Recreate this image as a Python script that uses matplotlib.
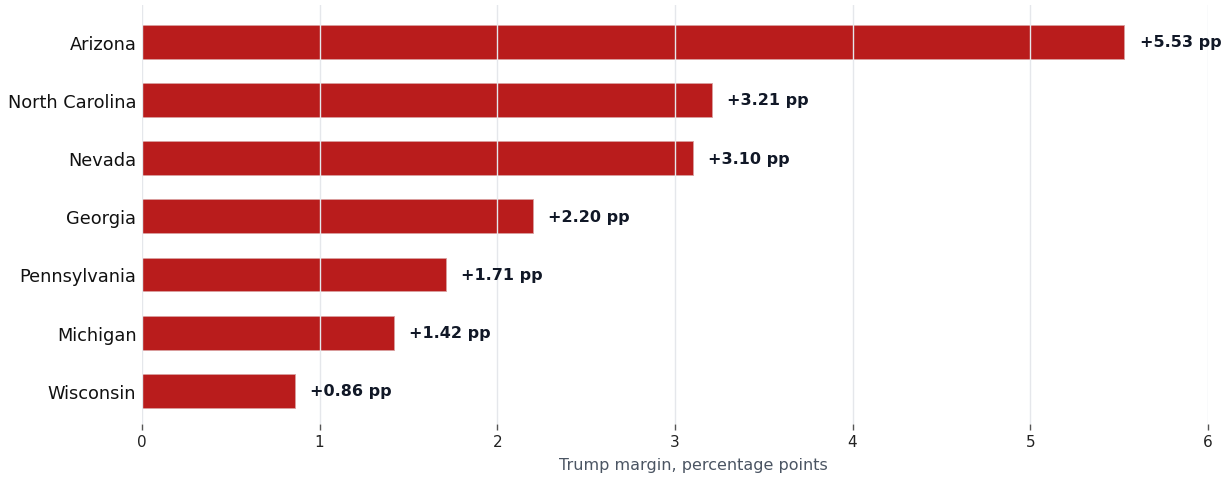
import matplotlib.pyplot as plt

# Swing state margins (Trump, percentage points)
states = ["Wisconsin", "Michigan", "Pennsylvania", "Georgia", "Nevada", "North Carolina", "Arizona"]
margins = [0.86, 1.42, 1.71, 2.20, 3.10, 3.21, 5.53]
xticks = [0, 1, 2, 3, 4, 5, 6]

fig = plt.figure(figsize=(12.28, 4.81), dpi=100)
ax = fig.add_axes([0.1156, 0.1164, 0.868, 0.871])

ax.barh(states, margins, height=0.58, color="#b91c1c", edgecolor="#d9a0a0", linewidth=0.6, zorder=1)

for y, v in enumerate(margins):
    ax.annotate(f"+{v:.2f} pp", xy=(v, y), xytext=(11, 0), textcoords="offset points",
                va="center", ha="left", fontsize=11.5, fontweight="bold", color="#111827")

ax.set_xlim(0, 6)
ax.set_ylim(-0.57, 6.63)
ax.set_xticks(xticks)
ax.grid(axis="x", color="#e5e7eb", linewidth=1, zorder=2)
ax.set_axisbelow(False)

for s in ax.spines.values():
    s.set_visible(False)

ax.tick_params(axis="y", length=0, labelsize=12.8, pad=4, labelcolor="#111111")
ax.tick_params(axis="x", length=4, width=1, color="#555555", labelsize=11, labelcolor="#222222")
ax.set_xlabel("Trump margin, percentage points", fontsize=11.5, color="#4b5563")
ax.xaxis.set_label_coords(0.517, -0.079)

fig.savefig("out.png", dpi=100)
